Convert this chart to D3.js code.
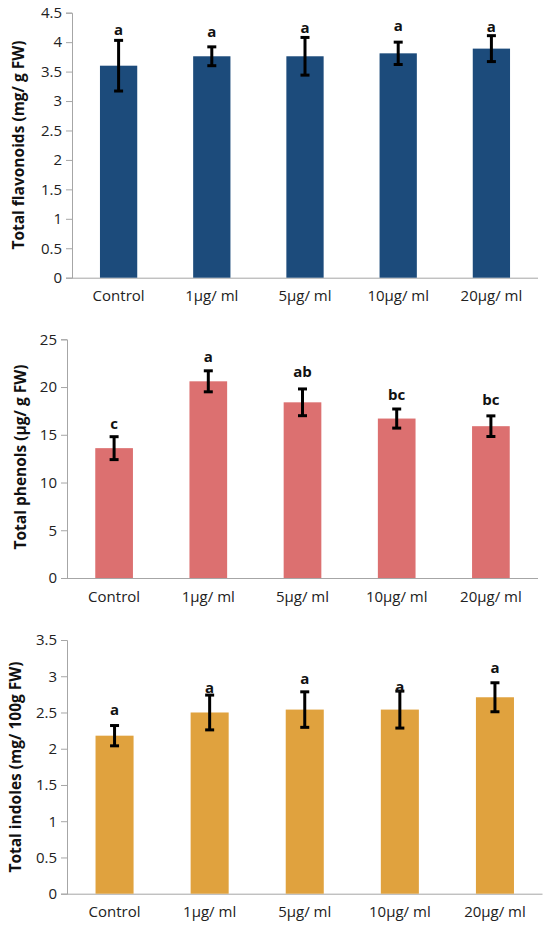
<!DOCTYPE html>
<html>
<head>
<meta charset="utf-8">
<script src="https://cdn.jsdelivr.net/npm/d3@7"></script>
<style>
  html, body { margin: 0; padding: 0; background: #fff; }
  svg { display: block; }
  text { font-family: "Open Sans", "Noto Sans", sans-serif; }
</style>
</head>
<body>
<svg id="chart" width="550" height="932"></svg>
<script>
// ---- data ----
const categories = ["Control", "1µg/ ml", "5µg/ ml", "10µg/ ml", "20µg/ ml"];

const flavonoids = [3.60, 3.76, 3.76, 3.81, 3.89];
const flavonoidsErr = [0.43, 0.16, 0.32, 0.19, 0.22];
const flavonoidsLetters = ["a", "a", "a", "a", "a"];
const flavonoidsLetterLevel = [4.19, 4.17, 4.23, 4.27, 4.25];
const flavonoidsTicks = [0, 0.5, 1, 1.5, 2, 2.5, 3, 3.5, 4, 4.5];

const phenols = [13.6, 20.6, 18.4, 16.7, 15.9];
const phenolsErr = [1.2, 1.1, 1.4, 1.0, 1.08];
const phenolsLetters = ["c", "a", "ab", "bc", "bc"];
const phenolsLetterLevel = [16.1, 23.07, 21.57, 19.13, 18.57];
const phenolsTicks = [0, 5, 10, 15, 20, 25];

const indoles = [2.18, 2.50, 2.54, 2.54, 2.71];
const indolesErr = [0.14, 0.24, 0.245, 0.255, 0.20];
const indolesLetters = ["a", "a", "a", "a", "a"];
const indolesLetterLevel = [2.53, 2.83, 2.96, 2.85, 3.10];
const indolesTicks = [0, 0.5, 1, 1.5, 2, 2.5, 3, 3.5];

// ---- layout ----
const panels = [
  { values: flavonoids, err: flavonoidsErr, letters: flavonoidsLetters, letterLevel: flavonoidsLetterLevel,
    ticks: flavonoidsTicks, title: "Total flavonoids (mg/ g FW)", color: "#1c4b7b",
    x0: 72, x1: 538, yBottom: 277.7, yTop: 12.7, titleX: 19, titleY: 145 },
  { values: phenols, err: phenolsErr, letters: phenolsLetters, letterLevel: phenolsLetterLevel,
    ticks: phenolsTicks, title: "Total phenols (µg/ g FW)", color: "#dc7070",
    x0: 67, x1: 538, yBottom: 578, yTop: 339.3, titleX: 20.5, titleY: 457 },
  { values: indoles, err: indolesErr, letters: indolesLetters, letterLevel: indolesLetterLevel,
    ticks: indolesTicks, title: "Total indoles (mg/ 100g FW)", color: "#e0a23e",
    x0: 67, x1: 542.5, yBottom: 893.7, yTop: 640, titleX: 16, titleY: 767 }
];

const svg = d3.select("#chart");
const axisColor = "#a6a6a6";
const labelSize = "15px";

panels.forEach(p => {
  const g = svg.append("g");
  const x = d3.scaleBand().domain(categories).range([p.x0, p.x1])
    .paddingInner(0.6).paddingOuter(0.3);
  const yMax = p.ticks[p.ticks.length - 1];
  const y = d3.scaleLinear().domain([0, yMax]).range([p.yBottom, p.yTop]);

  // y axis
  const yAxis = d3.axisLeft(y).tickValues(p.ticks).tickSize(6).tickPadding(4)
    .tickFormat(d => String(d));
  const ya = g.append("g").attr("transform", `translate(${p.x0},0)`).call(yAxis);
  ya.select(".domain").attr("stroke", axisColor).attr("stroke-width", 1);
  ya.selectAll(".tick line").attr("stroke", axisColor);
  ya.selectAll(".tick text").attr("fill", "#222").style("font-size", labelSize)
    .style("font-family", "'Open Sans', sans-serif");

  // x axis (baseline, no ticks)
  const xAxis = d3.axisBottom(x).tickSize(0).tickPadding(13);
  const xa = g.append("g").attr("transform", `translate(0,${p.yBottom})`).call(xAxis);
  xa.select(".domain").attr("stroke", axisColor).attr("stroke-width", 1)
    .attr("d", `M${p.x0},0.5H${p.x1}`);
  xa.selectAll(".tick text").attr("fill", "#222").style("font-size", labelSize)
    .style("font-family", "'Open Sans', sans-serif");

  // bars
  g.selectAll("rect.bar").data(p.values).join("rect")
    .attr("class", "bar")
    .attr("x", (d, i) => x(categories[i]))
    .attr("width", x.bandwidth())
    .attr("y", d => y(d))
    .attr("height", d => y(0) - y(d))
    .attr("fill", p.color);

  // error bars
  const cap = 4.5;
  const sw = 3;
  const cx = i => x(categories[i]) + x.bandwidth() / 2;
  const eb = g.selectAll("g.err").data(p.values).join("g").attr("class", "err");
  eb.append("line")
    .attr("x1", (d, i) => cx(i)).attr("x2", (d, i) => cx(i))
    .attr("y1", (d, i) => y(d + p.err[i]))
    .attr("y2", (d, i) => y(d - p.err[i]))
    .attr("stroke", "#000").attr("stroke-width", sw);
  eb.append("line")
    .attr("x1", (d, i) => cx(i) - cap).attr("x2", (d, i) => cx(i) + cap)
    .attr("y1", (d, i) => y(d + p.err[i]))
    .attr("y2", (d, i) => y(d + p.err[i]))
    .attr("stroke", "#000").attr("stroke-width", sw);
  eb.append("line")
    .attr("x1", (d, i) => cx(i) - cap).attr("x2", (d, i) => cx(i) + cap)
    .attr("y1", (d, i) => y(d - p.err[i]))
    .attr("y2", (d, i) => y(d - p.err[i]))
    .attr("stroke", "#000").attr("stroke-width", sw);

  // significance letters
  g.selectAll("text.letter").data(p.letters).join("text")
    .attr("class", "letter")
    .attr("x", (d, i) => cx(i))
    .attr("y", (d, i) => y(p.letterLevel[i]))
    .attr("dy", "0.3em")
    .attr("text-anchor", "middle")
    .style("font-size", "15px").style("font-weight", "bold")
    .attr("fill", "#111")
    .text(d => d);

  // y title
  g.append("text")
    .attr("transform", `translate(${p.titleX},${p.titleY}) rotate(-90)`)
    .attr("text-anchor", "middle")
    .attr("dy", "0.35em")
    .style("font-size", "15.5px").style("font-weight", "bold")
    .attr("fill", "#111")
    .text(p.title);
});
</script>
</body>
</html>
